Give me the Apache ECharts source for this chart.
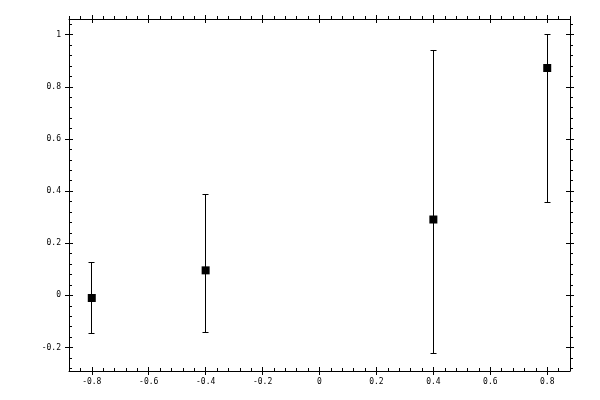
<!DOCTYPE html>
<html>
<head>
<meta charset="utf-8">
<script src="https://cdn.jsdelivr.net/npm/echarts@6/dist/echarts.min.js"></script>
<style>html,body{margin:0;padding:0;background:#fff;}#c{width:600px;height:400px;}</style>
</head>
<body>
<div id="c"></div>
<script>
// Data
var xValues = [-0.8, -0.4, 0.4, 0.8];
var yValues = [-0.01, 0.096, 0.291, 0.872];
var yLow = [-0.146, -0.142, -0.223, 0.356];
var yHigh = [0.128, 0.387, 0.941, 1.0];
// Tick labels
var xTicks = [-0.8, -0.6, -0.4, -0.2, 0, 0.2, 0.4, 0.6, 0.8];
var yTicks = [-0.2, 0, 0.2, 0.4, 0.6, 0.8, 1];
var xMin = -0.88, xMax = 0.88, yMin = -0.29, yMax = 1.06;

function minors(lo, hi, step) {
  var out = [];
  var start = Math.ceil(lo / step - 1e-9);
  for (var k = start; k * step <= hi + 1e-9; k++) out.push(Math.round(k * step * 1000) / 1000);
  return out;
}
var xMinor = minors(xMin, xMax, 0.04);
var yMinor = minors(yMin, yMax, 0.04);

var FONT = 'DejaVu Sans Mono';
function axis(kind, pos, mode) {
  var isX = kind === 'x';
  var a = {
    type: 'value', position: pos,
    min: isX ? xMin : yMin, max: isX ? xMax : yMax,
    splitLine: {show: false},
    axisLine: {show: mode === 'main', onZero: false, lineStyle: {color: '#000', width: 1}},
    axisLabel: {show: false},
    axisTick: {show: true, inside: false, length: 3, lineStyle: {color: '#000', width: 1}}
  };
  if (mode === 'main') {
    a.axisTick.inside = true; a.axisTick.length = 4;
    a.axisTick.customValues = isX ? xTicks : yTicks;
    if (pos === 'bottom' || pos === 'left') {
      a.axisLabel = {show: true, customValues: isX ? xTicks : yTicks, color: '#000',
        fontFamily: FONT, fontSize: 8, margin: isX ? 7 : 8};
    }
  } else if (mode === 'out') {
    a.axisTick.inside = false; a.axisTick.length = 4;
    a.axisTick.customValues = isX ? xTicks : yTicks;
  } else {
    a.axisTick.inside = (pos === 'bottom' || pos === 'left');
    a.axisTick.length = 3;
    a.axisTick.customValues = isX ? xMinor : yMinor;
  }
  return a;
}

var xAxes = [], yAxes = [];
['bottom', 'top'].forEach(function (p) {
  ['main', 'out', 'minor'].forEach(function (m) { xAxes.push(axis('x', p, m)); });
});
['left', 'right'].forEach(function (p) {
  ['main', 'out', 'minor'].forEach(function (m) { yAxes.push(axis('y', p, m)); });
});

var pts = xValues.map(function (x, i) { return [x, yValues[i]]; });
var bars = xValues.map(function (x, i) { return [x, yLow[i], yHigh[i]]; });

function crisp(v) { return Math.round(v - 0.5) + 0.5; }

var chart = echarts.init(document.getElementById('c'), null, {renderer: 'canvas'});
chart.setOption({
  animation: false,
  backgroundColor: '#fff',
  grid: {left: 69, right: 30, top: 19, bottom: 29},
  xAxis: xAxes,
  yAxis: yAxes,
  series: [
    {
      type: 'custom', xAxisIndex: 0, yAxisIndex: 0,
      data: bars,
      renderItem: function (params, api) {
        var x = api.value(0);
        var lo = api.coord([x, api.value(1)]);
        var hi = api.coord([x, api.value(2)]);
        var cx = crisp(lo[0]), ly = crisp(lo[1]), hy = crisp(hi[1]);
        var w = 3;
        var st = {stroke: '#000', lineWidth: 1};
        return {type: 'group', children: [
          {type: 'line', shape: {x1: cx, y1: ly, x2: cx, y2: hy}, style: st},
          {type: 'line', shape: {x1: cx - w, y1: ly, x2: cx + w, y2: ly}, style: st},
          {type: 'line', shape: {x1: cx - w, y1: hy, x2: cx + w, y2: hy}, style: st}
        ]};
      }
    },
    {
      type: 'scatter', xAxisIndex: 0, yAxisIndex: 0,
      symbol: 'rect', symbolSize: 8,
      itemStyle: {color: '#000', opacity: 1},
      data: pts
    }
  ]
});
</script>
</body>
</html>
